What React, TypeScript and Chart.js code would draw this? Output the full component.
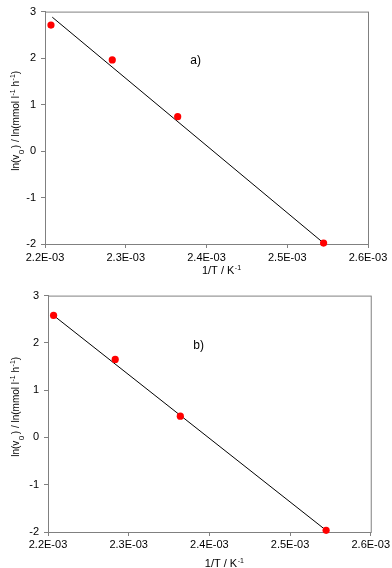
import React, { useEffect, useRef } from 'react';
import { Chart, registerables } from 'chart.js';
Chart.register(...registerables);

const xTicks = [0.0022, 0.0023, 0.0024, 0.0025, 0.0026];
const xTickLabels = ['2.2E-03', '2.3E-03', '2.4E-03', '2.5E-03', '2.6E-03'];
const yTicks = [-2, -1, 0, 1, 2, 3];

const invTA = [2.2074e-3, 2.2833e-3, 2.3643e-3, 2.545e-3];
const lnV0A = [2.71, 1.96, 0.74, -1.98];
const fitXA = [2.209e-3, 2.5454e-3];
const fitYA = [2.88, -1.985];

const invTB = [2.2069e-3, 2.2833e-3, 2.364e-3, 2.5447e-3];
const lnV0B = [2.58, 1.65, 0.45, -1.965];
const fitXB = [2.2069e-3, 2.5447e-3];
const fitYB = [2.58, -1.965];

const panelLabels = ['a)', 'b)'];
const LABEL_AT = { x: 2.38e-3, y: 1.95 };

const FONT = '"Liberation Sans", Arial, sans-serif';
const GRAY = '#808080';

type Seg = { t: string; size: number; dy: number; gapAfter?: number };

function drawSegs(ctx: CanvasRenderingContext2D, segs: Seg[], cx: number, cy: number, rot: number) {
  ctx.save();
  ctx.translate(cx, cy);
  ctx.rotate(rot);
  ctx.fillStyle = '#000';
  ctx.textBaseline = 'alphabetic';
  ctx.textAlign = 'left';
  let total = 0;
  for (const s of segs) {
    ctx.font = `${s.size}px ${FONT}`;
    total += ctx.measureText(s.t).width + (s.gapAfter || 0);
  }
  let x = -total / 2;
  for (const s of segs) {
    ctx.font = `${s.size}px ${FONT}`;
    ctx.fillText(s.t, x, s.dy);
    x += ctx.measureText(s.t).width + (s.gapAfter || 0);
  }
  ctx.restore();
}

const decorPlugin = {
  id: 'decor',
  beforeDatasetsDraw(chart: any) {
    const { ctx, chartArea } = chart;
    ctx.save();
    ctx.strokeStyle = GRAY;
    ctx.lineWidth = 1;
    ctx.strokeRect(chartArea.left + 0.5, chartArea.top + 0.5, chartArea.right - chartArea.left, chartArea.bottom - chartArea.top);
    ctx.restore();
  },
  afterDraw(chart: any) {
    const { ctx, chartArea, scales } = chart;
    const opts = chart.options.plugins.decor;
    ctx.save();
    ctx.fillStyle = '#000';
    ctx.font = `12px ${FONT}`;
    ctx.textBaseline = 'middle';
    ctx.textAlign = 'left';
    ctx.fillText(opts.label, scales.x.getPixelForValue(LABEL_AT.x), scales.y.getPixelForValue(LABEL_AT.y));
    ctx.restore();
    const cy = (chartArea.top + chartArea.bottom) / 2 - 7;
    drawSegs(ctx, [
      { t: 'ln(v', size: 10, dy: 0, gapAfter: 0.5 },
      { t: '0', size: 8, dy: 5, gapAfter: 1.5 },
      { t: ') / ln(mmol l', size: 10, dy: 0, gapAfter: 0.5 },
      { t: '-1', size: 7, dy: -4 },
      { t: ' h', size: 10, dy: 0, gapAfter: 0.5 },
      { t: '-1', size: 7, dy: -4 },
      { t: ')', size: 10, dy: 0 },
    ], 19, cy, -Math.PI / 2);
    const cx = (chartArea.left + chartArea.right) / 2 + 15;
    drawSegs(ctx, [
      { t: '1/T / K', size: 11, dy: 0, gapAfter: 0.5 },
      { t: '-1', size: 7, dy: -4 },
    ], cx, opts.xTitleY, 0);
  },
};

function Panel(props: { xs: number[]; ys: number[]; fx: number[]; fy: number[]; label: string; pad: { top: number; right: number }; yW: number; xH: number; xTitleY: number; tickPad: number }) {
  const ref = useRef<HTMLCanvasElement>(null);
  useEffect(() => {
    const pts = props.xs.map((x, i) => ({ x, y: props.ys[i] }));
    const fit = props.fx.map((x, i) => ({ x, y: props.fy[i] }));
    const chart = new Chart(ref.current!, {
      type: 'scatter',
      data: {
        datasets: [
          {
            data: pts,
            backgroundColor: '#ff0000',
            borderColor: '#ff0000',
            pointRadius: 3.6,
            pointBorderWidth: 0,
            showLine: false,
            order: 0,
            clip: false,
          } as any,
          {
            data: fit,
            borderColor: '#000',
            borderWidth: 1,
            pointRadius: 0,
            showLine: true,
            order: 1,
            clip: false,
          } as any,
        ],
      },
      options: {
        animation: false,
        responsive: false,
        devicePixelRatio: 1,
        layout: { padding: { top: props.pad.top, right: props.pad.right, left: 0, bottom: 0 } },
        plugins: {
          legend: { display: false },
          tooltip: { enabled: false },
          decor: { label: props.label, xTitleY: props.xTitleY },
        } as any,
        scales: {
          x: {
            type: 'linear',
            min: xTicks[0],
            max: xTicks[xTicks.length - 1],
            afterBuildTicks: (s: any) => { s.ticks = xTicks.map((v) => ({ value: v })); },
            afterFit: (s: any) => { s.height = props.xH; },
            ticks: {
              color: '#000',
              font: { family: FONT, size: 11 },
              padding: props.tickPad,
              maxRotation: 0,
              autoSkip: false,
              callback: (v: any) => {
                const i = xTicks.findIndex((t) => Math.abs(t - v) < 1e-9);
                return i >= 0 ? xTickLabels[i] : '';
              },
            },
            grid: { drawOnChartArea: false, drawTicks: true, tickLength: 4, color: GRAY },
            border: { display: true, color: GRAY },
          },
          y: {
            type: 'linear',
            min: yTicks[0],
            max: yTicks[yTicks.length - 1],
            afterBuildTicks: (s: any) => { s.ticks = yTicks.map((v) => ({ value: v })); },
            afterFit: (s: any) => { s.width = props.yW; },
            ticks: {
              color: '#000',
              font: { family: FONT, size: 11 },
              padding: 5,
              callback: (v: any) => String(v),
            },
            grid: { drawOnChartArea: false, drawTicks: true, tickLength: 4, color: GRAY },
            border: { display: true, color: GRAY },
          },
        },
      },
      plugins: [decorPlugin],
    } as any);
    return () => chart.destroy();
  }, []);
  return <canvas ref={ref} width={392} height={284} style={{ display: 'block', width: 392, height: 284 }} />;
}

export default function App() {
  return (
    <div style={{ position: 'absolute', left: 0, top: 0, width: 392, height: 568, background: '#fff' }}>
      <Panel xs={invTA} ys={lnV0A} fx={fitXA} fy={fitYA} label={panelLabels[0]} pad={{ top: 6, right: 24 }} yW={45} xH={40} xTitleY={274} tickPad={3} />
      <Panel xs={invTB} ys={lnV0B} fx={fitXB} fy={fitYB} label={panelLabels[1]} pad={{ top: 11, right: 21 }} yW={48} xH={36} xTitleY={283} tickPad={2} />
    </div>
  );
}
